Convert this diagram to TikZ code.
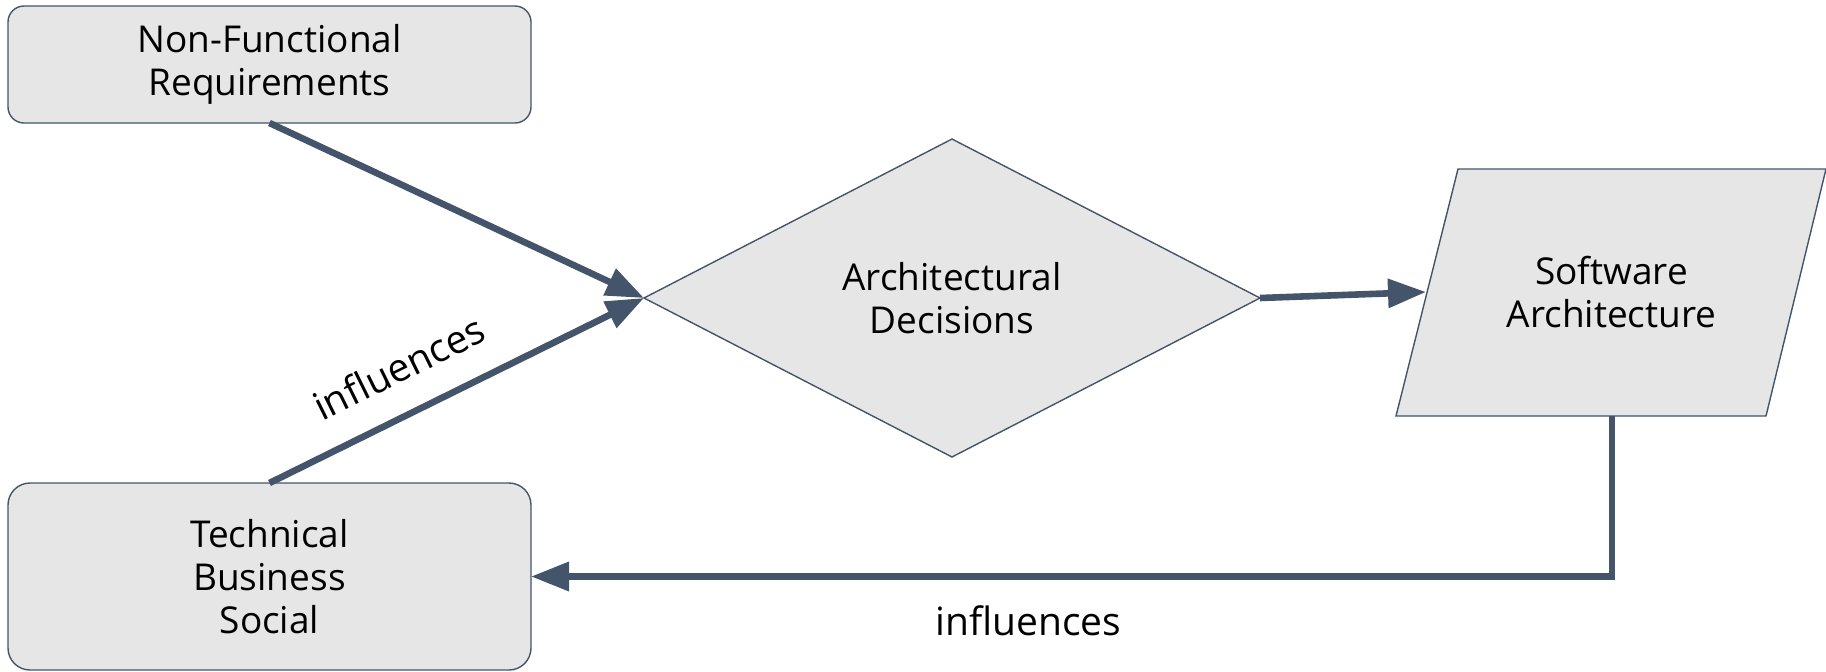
\documentclass[tikz,border=0pt]{standalone}
\usepackage{fontspec}
\setmainfont{Open Sans}
\usetikzlibrary{arrows.meta,shapes.geometric}
\definecolor{slate}{HTML}{44546A}
\definecolor{boxfill}{HTML}{E6E6E6}
\begin{document}
\begin{tikzpicture}[x=0.5pt,y=-0.5pt,
  shapeline/.style={draw=slate, line width=0.7pt, fill=boxfill},
  txt/.style={align=center, inner sep=0pt, outer sep=0pt, font=\fontsize{18.5pt}{21.5pt}\selectfont},
  roundbox/.style={shapeline, txt, rectangle, rounded corners=8pt, minimum width=261.5pt, minimum height=58.5pt},
  decision/.style={shapeline, txt, diamond, aspect=1.937, minimum width=308pt, minimum height=159pt},
  conn/.style={draw=slate, line width=3.3pt, -{Triangle[length=19pt,width=14pt]}},
  lbl/.style={font=\fontsize{19.5pt}{23pt}\selectfont, inner sep=0pt}
]
\useasboundingbox (0,0) rectangle (1826,671);

\node[roundbox] (nfr) at (269.5,64.5) {Non-Functional\\Requirements};
\node[roundbox, minimum height=93.5pt, rounded corners=11pt] (tbs) at (269.5,576.5) {Technical\\Business\\Social};
\node[decision] (ad) at (952,298) {Architectural\\Decisions};

\draw[shapeline] (1458,169) -- (1826,169) -- (1766,416) -- (1396,416) -- cycle;
\node[txt] (sa) at (1611.5,292.5) {Software\\Architecture};
\coordinate (sain) at (1426,292);
\coordinate (saout) at (1612,416);

\draw[conn] (nfr.south) -- (ad.west);
\draw[conn] (tbs.north) -- node[lbl, sloped, above=14pt, pos=0.4] (l1) {influences} (ad.west);
\draw[conn] (ad.east) -- (sain);
\draw[conn] (saout) -- (saout |- tbs.east) -- node[lbl, below=13pt, pos=0.54] (l2) {influences} (tbs.east);
\end{tikzpicture}
\end{document}
